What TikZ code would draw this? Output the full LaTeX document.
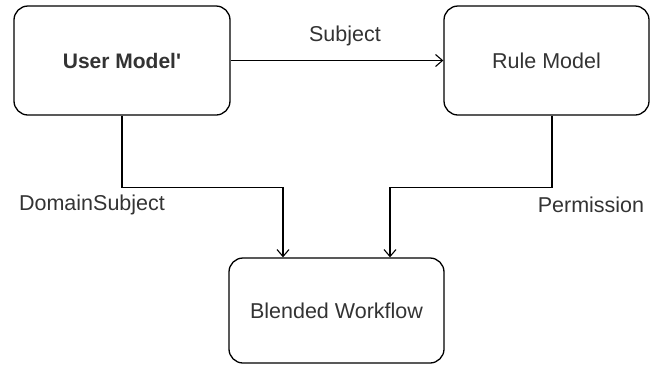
\documentclass[tikz,border=0pt]{standalone}
\usepackage{fontspec}
\setmainfont{Liberation Sans}
\usetikzlibrary{arrows.meta}
\definecolor{labelgray}{HTML}{333333}
\begin{document}
\begin{tikzpicture}[x=1pt,y=-1pt,
  every node/.style={font=\fontsize{21.5}{25}\selectfont,text=labelgray},
  model/.style={draw,line width=1.3pt,rounded corners=14pt,inner sep=0pt},
  flow/.style={line width=1.2pt,-{Straight Barb[length=7pt,width=12pt,line width=1.1pt]}}]
\useasboundingbox (0,0) rectangle (651,365);
% the three models
\node[model,minimum width=216pt,minimum height=109pt,font=\fontsize{21}{25}\selectfont\bfseries] (user) at (122,60.5) {User Model\textquotesingle};
\node[model,minimum width=205pt,minimum height=109pt] (rule) at (546.5,60.5) {Rule Model};
\node[model,minimum width=215pt,minimum height=105pt] (blend) at (336.5,310.5) {Blended Workflow};
% links between them
\draw[flow] (user.east) -- (rule.west);
\node (subj) at (345,36) {Subject};
\draw[flow] (user.south) -- ++(0,72) -| ([xshift=-53.5pt]blend.north);
\node (dom) at (92,205) {DomainSubject};
\draw[flow] ([xshift=5.5pt]rule.south) -- ++(0,72) -| ([xshift=53.5pt]blend.north);
\node (perm) at (591,205) {Permission};
\end{tikzpicture}
\end{document}
